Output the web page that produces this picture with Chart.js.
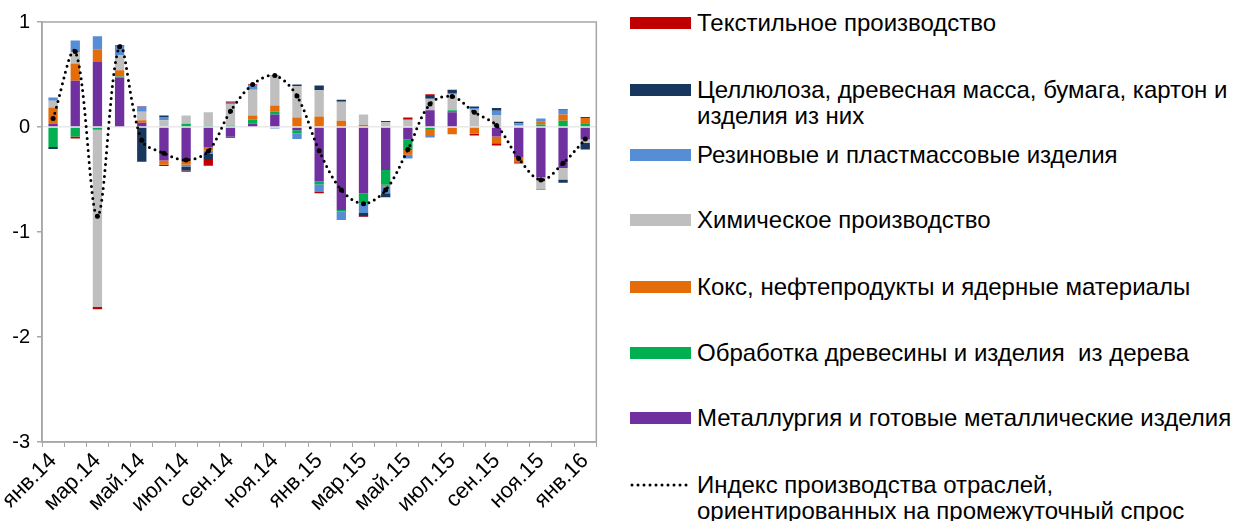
<!DOCTYPE html>
<html lang="ru">
<head>
<meta charset="utf-8">
<script src="https://cdn.jsdelivr.net/npm/chart.js@4.4.1/dist/chart.umd.min.js"></script>
<style>
  html, body { margin: 0; padding: 0; background: #fff; }
  #wrap { position: relative; width: 1239px; height: 521px; overflow: hidden;
          font-family: "Liberation Sans", Arial, sans-serif; }
  #chart { position: absolute; left: 0; top: 0; }
  .item { position: absolute; left: 630px; display: flex; align-items: flex-start; }
  .sw { width: 61px; height: 12px; margin-top: 7px; flex: none; }
  .sw svg { display: block; }
  .txt { margin-left: 6px; font-size: 24px; line-height: 26px; color: #000; white-space: pre; }
</style>
</head>
<body>
<div id="wrap">
  <canvas id="chart" width="605" height="521"></canvas>
  <div id="legend"></div>
</div>
<script>
// Months on the category axis
const months = [
  'янв.14','фев.14','мар.14','апр.14','май.14','июн.14','июл.14','авг.14','сен.14','окт.14','ноя.14','дек.14',
  'янв.15','фев.15','мар.15','апр.15','май.15','июн.15','июл.15','авг.15','сен.15','окт.15','ноя.15','дек.15',
  'янв.16'
];

// Contributions by industry, p.p.
const metallurgy = [0.03, 0.44, 0.62, 0.47, 0.04, -0.32, -0.31, -0.19, -0.09, 0.03, 0.12, -0.03,
  -0.52, -0.79, -0.63, -0.41, -0.12, 0.16, 0.14, -0.01, -0.09, -0.29, -0.48, -0.39, -0.12];
const wood = [-0.19, -0.09, -0.025, 0.01, 0, 0, 0.03, 0.01, 0.01, 0.04, 0.025, -0.03,
  -0.025, -0.015, -0.095, -0.14, -0.10, -0.02, 0.02, 0, 0, 0, 0.025, 0.06, 0.035];
const coke = [0.155, 0.165, 0.12, 0.06, 0.025, -0.04, -0.05, -0.035, 0.005, 0.04, 0.06, 0.09,
  0.10, 0.06, 0.02, -0.015, -0.045, -0.065, -0.07, -0.055, -0.065, -0.045, 0.025, 0.06, 0.05];
const chemical = [0.065, 0.11, -1.69, 0.145, 0.08, 0.065, 0.08, 0.13, 0.20, 0.245, 0.28, 0.30,
  0.25, 0.18, 0.10, 0.045, 0.07, 0.11, 0.15, 0.165, 0.115, 0.02, -0.11, -0.11, -0.03];
const rubber = [0.03, 0.11, 0.125, 0.09, 0.05, 0.03, -0.015, -0.03, 0.015, 0.04, -0.015, -0.055,
  -0.075, -0.08, -0.095, -0.065, -0.035, -0.015, 0.015, 0.015, 0.04, 0.015, 0.03, 0.045, 0];
const pulp = [-0.02, 0, 0, 0, -0.33, 0.015, -0.04, -0.06, -0.013, 0, 0, 0.015,
  0.045, 0.02, -0.03, -0.04, 0, 0.025, 0.03, 0.015, 0.025, 0.015, 0, -0.03, -0.065];
const textile = [0, -0.02, -0.02, 0.005, 0.005, -0.012, -0.012, -0.055, 0.012, 0.012, 0.005, 0,
  -0.01, 0, -0.006, 0.012, 0.02, 0.016, 0, -0.016, -0.022, -0.012, -0.006, 0.006, 0.01];

// Output index of intermediate-demand industries
const outputIndex = [0.08, 0.72, -0.85, 0.765, -0.125, -0.25, -0.315, -0.23, 0.15, 0.405, 0.49, 0.295,
  -0.225, -0.6, -0.73, -0.6, -0.215, 0.22, 0.29, 0.14, 0.015, -0.3, -0.505, -0.345, -0.115];

// Y axis ticks
const yTicks = [1, 0, -1, -2, -3];

// Bar series, bottom of the stack first
const barSeries = [
  { label: 'Металлургия и готовые металлические изделия', data: metallurgy, color: '#7030A0' },
  { label: 'Обработка древесины и изделия  из дерева', data: wood, color: '#00B050' },
  { label: 'Кокс, нефтепродукты и ядерные материалы', data: coke, color: '#E46C0A' },
  { label: 'Химическое производство', data: chemical, color: '#BFBFBF' },
  { label: 'Резиновые и пластмассовые изделия', data: rubber, color: '#558ED5' },
  { label: 'Целлюлоза, древесная масса, бумага, картон и\nизделия из них', data: pulp, color: '#17375E' },
  { label: 'Текстильное производство', data: textile, color: '#C00000' }
];
const lineLabel = 'Индекс производства отраслей,\nориентированных на промежуточный спрос';

const AXIS = '#A6A6A6';

// Frame around the plot area
const framePlugin = {
  id: 'frame',
  beforeDatasetsDraw(chart) {
    const { ctx, chartArea: a } = chart;
    ctx.save();
    ctx.strokeStyle = AXIS;
    ctx.lineWidth = 1.5;
    ctx.strokeRect(a.left, a.top, a.right - a.left, a.bottom - a.top);
    ctx.restore();
  }
};

const datasets = [{
  type: 'line',
  label: lineLabel,
  data: outputIndex,
  stack: 'line',
  order: 0,
  borderColor: '#000',
  borderWidth: 3,
  borderDash: [0, 6],
  borderCapStyle: 'round',
  tension: 0.35,
  pointRadius: 2.5,
  pointBackgroundColor: '#000',
  pointBorderWidth: 0,
  fill: false
}].concat(barSeries.map(s => ({
  type: 'bar',
  label: s.label,
  data: s.data,
  stack: 'bars',
  order: 1,
  backgroundColor: s.color,
  borderWidth: 0,
  categoryPercentage: 1,
  barPercentage: 0.42
})));

new Chart(document.getElementById('chart'), {
  data: { labels: months, datasets },
  plugins: [framePlugin],
  options: {
    responsive: false,
    animation: false,
    devicePixelRatio: 1,
    layout: { padding: { top: 22, right: 5, left: 0, bottom: 0 } },
    plugins: { legend: { display: false }, tooltip: { enabled: false } },
    scales: {
      x: {
        stacked: true,
        offset: true,
        afterFit(scale) { scale.height = 79; },
        grid: { offset: true, drawOnChartArea: false, drawTicks: true, tickLength: 5, tickColor: AXIS },
        border: { display: true, color: AXIS, width: 1.5 },
        ticks: {
          autoSkip: false,
          minRotation: 45,
          maxRotation: 45,
          padding: 1,
          color: '#000',
          font: { family: '"Liberation Sans", Arial, sans-serif', size: 22 },
          callback(v, i) { return i % 2 === 0 ? months[i] : ''; }
        }
      },
      y: {
        stacked: true,
        min: -3,
        max: 1,
        afterFit(scale) { scale.width = 42; },
        afterBuildTicks(scale) { scale.ticks = yTicks.map(v => ({ value: v })); },
        grid: {
          drawTicks: true,
          tickLength: 5,
          tickColor: AXIS,
          color: ctx => (ctx.tick && ctx.tick.value === 0 ? '#E8E8E8' : 'rgba(0,0,0,0)'),
          lineWidth: 1.5
        },
        border: { display: true, color: AXIS, width: 1.5 },
        ticks: {
          padding: 7,
          color: '#000',
          font: { family: '"Liberation Sans", Arial, sans-serif', size: 20 }
        }
      }
    }
  }
});

// Legend on the right: top entry is the last bar series, the line comes last
const legendCenters = [23, 90, 155, 220, 287, 353, 418, 485];
const legendItems = barSeries.slice().reverse()
  .map(s => ({ label: s.label, color: s.color, line: false }))
  .concat([{ label: lineLabel, line: true }]);
const legend = document.getElementById('legend');
legendItems.forEach((it, i) => {
  const row = document.createElement('div');
  row.className = 'item';
  row.style.top = (legendCenters[i] - 13) + 'px';
  const sw = document.createElement('div');
  sw.className = 'sw';
  if (it.line) {
    sw.innerHTML = '<svg width="61" height="12"><line x1="2" y1="6" x2="60" y2="6" stroke="#000" stroke-width="3" stroke-linecap="round" stroke-dasharray="0 6"/></svg>';
  } else {
    sw.style.background = it.color;
  }
  const tx = document.createElement('div');
  tx.className = 'txt';
  tx.textContent = it.label;
  row.appendChild(sw);
  row.appendChild(tx);
  legend.appendChild(row);
});
</script>
</body>
</html>
